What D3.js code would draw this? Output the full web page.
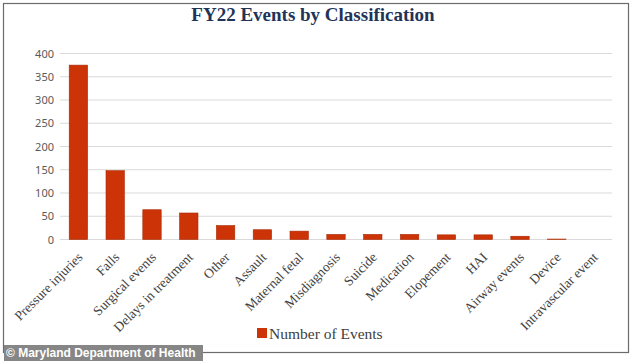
<!DOCTYPE html>
<html>
<head>
<meta charset="utf-8">
<script src="https://cdn.jsdelivr.net/npm/d3@7"></script>
<style>
  body { margin: 0; background: #fff; }
  svg { display: block; }
</style>
</head>
<body>
<svg id="chart" width="634" height="361"></svg>
<script>
// data
var categories = ['Pressure injuries', 'Falls', 'Surgical events', 'Delays in treatment', 'Other',
  'Assault', 'Maternal fetal', 'Misdiagnosis', 'Suicide', 'Medication', 'Elopement', 'HAI',
  'Airway events', 'Device', 'Intravascular event']
var counts = [375, 148, 64, 57, 30, 21, 18, 11, 11, 11, 10, 10, 7, 1, 0]
var yTicks = [0, 50, 100, 150, 200, 250, 300, 350, 400]
var seriesName = 'Number of Events'

var barColor = '#cc3408'
var gridColor = '#d9d9d9'

var svg = d3.select('#chart')

// outer frame
svg.append('rect')
  .attr('x', 3.5).attr('y', 3.5)
  .attr('width', 625).attr('height', 349)
  .attr('fill', '#fff')
  .attr('stroke', '#6b6b6b')
  .attr('stroke-width', 1.2)

svg.append('text')
  .attr('x', 313).attr('y', 21)
  .attr('text-anchor', 'middle')
  .attr('font-family', 'Liberation Serif, serif')
  .attr('font-weight', 'bold')
  .attr('font-size', '19px')
  .attr('fill', '#1f3458')
  .text('FY22 Events by Classification')

var xScale = d3.scaleBand()
  .domain(categories)
  .range([60, 612])
  .paddingInner(0.5)
  .paddingOuter(0.25)

var yScale = d3.scaleLinear()
  .domain([0, 400])
  .range([239.5, 53.5])

// gridlines
svg.append('g')
  .selectAll('line')
  .data(yTicks)
  .enter()
  .append('line')
  .attr('x1', 60).attr('x2', 612)
  .attr('y1', d => yScale(d)).attr('y2', d => yScale(d))
  .attr('stroke', gridColor)
  .attr('stroke-width', 1)

// y axis labels
var yAxis = svg.append('g')
  .attr('transform', 'translate(54,0)')
  .call(d3.axisLeft(yScale).tickValues(yTicks).tickSize(0).tickPadding(0))
yAxis.select('.domain').remove()
yAxis.selectAll('text')
  .attr('font-family', 'Noto Sans, sans-serif')
  .attr('font-size', '11px')
  .attr('fill', '#595959')

// bars
svg.append('g')
  .selectAll('rect')
  .data(counts)
  .enter()
  .append('rect')
  .attr('x', (d, i) => xScale(categories[i]))
  .attr('y', d => yScale(d))
  .attr('width', xScale.bandwidth())
  .attr('height', d => yScale(0) - yScale(d))
  .attr('fill', barColor)
  .attr('stroke', '#a82a06')
  .attr('stroke-width', d => d > 0 ? 0.6 : 0)

// x labels, rotated
svg.append('g')
  .selectAll('text')
  .data(categories)
  .enter()
  .append('text')
  .attr('transform', d => 'translate(' + (xScale(d) + xScale.bandwidth() / 2 + 5) + ',258) rotate(-45)')
  .attr('text-anchor', 'end')
  .attr('font-family', 'Liberation Serif, serif')
  .attr('font-size', '13.5px')
  .attr('fill', '#404040')
  .text(d => d)

// legend
var legend = svg.append('g').attr('transform', 'translate(257,328)')
legend.append('rect')
  .attr('width', 10).attr('height', 10)
  .attr('fill', barColor)
legend.append('text')
  .attr('x', 12).attr('y', 10.5)
  .attr('font-family', 'Liberation Serif, serif')
  .attr('font-size', '15.5px')
  .attr('fill', '#404040')
  .text(seriesName)

// credit strip
svg.append('rect')
  .attr('x', 4).attr('y', 345)
  .attr('width', 199).attr('height', 16)
  .attr('fill', '#868686')
svg.append('text')
  .attr('x', 6).attr('y', 357)
  .attr('font-family', 'Liberation Sans, Arial, sans-serif')
  .attr('font-weight', 'bold')
  .attr('font-size', '12px')
  .attr('fill', '#fff')
  .text('© Maryland Department of Health')
</script>
</body>
</html>
